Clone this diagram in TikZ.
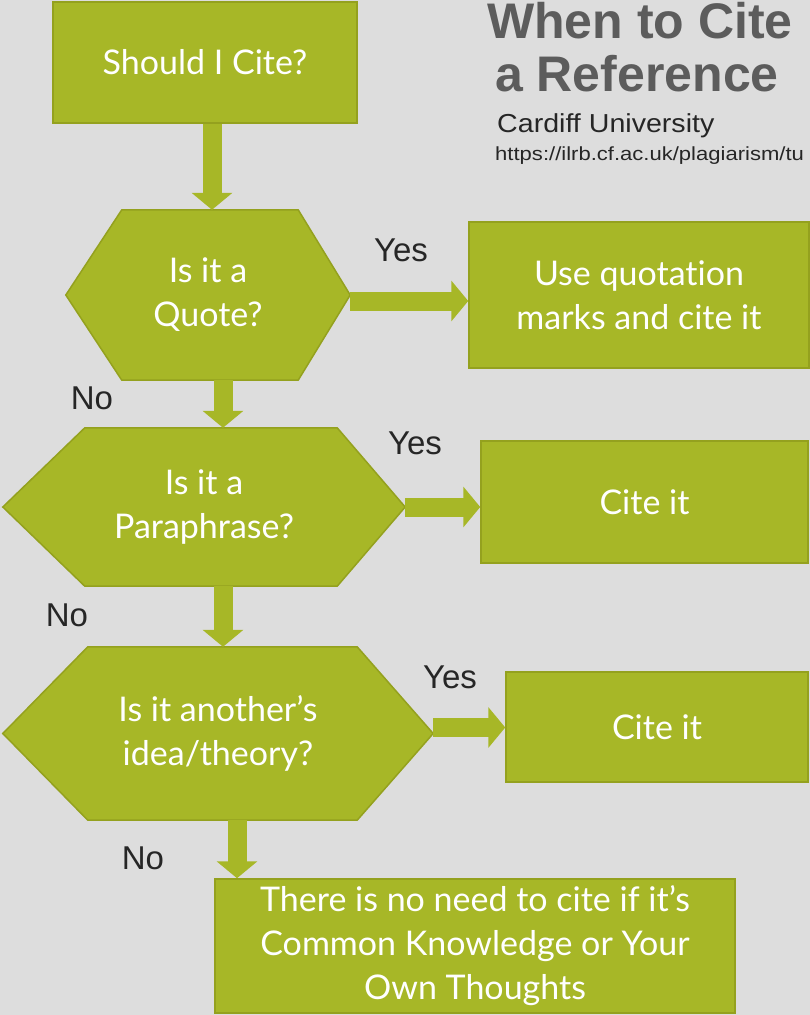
\documentclass[tikz,border=0pt]{standalone}
\usepackage{fontspec}
\setmainfont{Lato}[Ligatures=NoCommon]
\newfontfamily\arialfont{Liberation Sans}
\usetikzlibrary{arrows.meta,positioning,backgrounds}
\definecolor{citegreen}{RGB}{167,183,39}
\definecolor{citeedge}{RGB}{148,161,30}
\definecolor{paper}{RGB}{221,221,221}
\definecolor{titlegray}{RGB}{92,92,92}
% hexagon round a named node: node, left inset, right inset
\newcommand{\hexoutline}[3]{%
  \filldraw[fill=citegreen,draw=citeedge,line width=1.5pt,line join=miter]
    (#1.west) -- ([xshift=#2pt]#1.north west) -- ([xshift=-#3pt]#1.north east)
    -- (#1.east) -- ([xshift=-#3pt]#1.south east) -- ([xshift=#2pt]#1.south west) -- cycle;}

\begin{document}
\begin{tikzpicture}[
      x=1pt,y=-1pt,
      box/.style={rectangle,draw=citeedge,fill=citegreen,line width=1.5pt,text=white,
                  align=center,inner sep=0pt,font=\fontsize{34}{44}\selectfont},
      hexnode/.style={rectangle,text=white,align=center,inner sep=0pt,
                      font=\fontsize{34}{44}\selectfont},
      flow/.style={draw=citegreen,line width=19pt,-{Triangle[width=40pt,length=17pt]}},
      answer/.style={font=\arialfont\fontsize{33}{33}\selectfont,text=black!85,inner sep=0pt}
    ]
    \useasboundingbox (0,0) rectangle (810,1015);
    \clip (0,0) rectangle (810,1015);

    % Title
    \node[anchor=base west,inner sep=0pt,text=titlegray,
          font=\arialfont\bfseries\fontsize{50}{50}\selectfont] (title1) at (487,38) {When to Cite};
    \node[anchor=base west,inner sep=0pt,text=titlegray,
          font=\arialfont\bfseries\fontsize{50}{50}\selectfont] (title2) at (495,91) {a Reference};
    \node[anchor=base west,inner sep=0pt,text=black!85,xscale=1.1,
          font=\arialfont\fontsize{26}{26}\selectfont] (uni) at (497,132) {Cardiff University};
    \node[anchor=base west,inner sep=0pt,text=black!85,xscale=1.16,
          font=\arialfont\fontsize{19}{19}\selectfont] (url) at (495,160) {https://ilrb.cf.ac.uk/plagiarism/tu};

    % Questions and answers
    \node[box,minimum width=304pt,minimum height=121pt] (should) at (205,62.5) {Should I Cite?};
    \node[hexnode,minimum width=284pt,minimum height=170pt] (quote) at (208,295) {Is it a\\Quote?};
    \node[box,minimum width=340pt,minimum height=146pt] (quotecite) at (639,295) {Use quotation\\marks and cite it};
    \node[hexnode,minimum width=402pt,minimum height=158pt] (para) at (204,507) {Is it a\\Paraphrase?};
    \node[box,minimum width=327pt,minimum height=122pt] (paracite) at (644.5,502) {Cite it};
    \node[hexnode,minimum width=430pt,minimum height=173pt] (idea) at (218,733.5) {Is it another’s\\idea/theory?};
    \node[box,minimum width=302pt,minimum height=110pt] (ideacite) at (657,727) {Cite it};
    \node[box,minimum width=520pt,minimum height=134pt] (common) at (475,946)
      {There is no need to cite if it’s\\Common Knowledge or Your\\Own Thoughts};

    % Hexagon shapes behind the question texts
    \begin{scope}[on background layer]
      \fill[paper] (0,0) rectangle (810,1015);
      \hexoutline{quote}{56}{52}
      \hexoutline{para}{82}{68}
      \hexoutline{idea}{85}{76}
    \end{scope}

    % Arrows down
    \draw[flow] ([xshift=7pt]should.south) -- ([xshift=7pt]should.south |- quote.north);
    \draw[flow] ([xshift=15pt]quote.south) -- ([xshift=15pt]quote.south |- para.north);
    \draw[flow] ([xshift=19pt]para.south) -- ([xshift=19pt]para.south |- idea.north);
    \draw[flow] ([xshift=19pt]idea.south) -- ([xshift=19pt]idea.south |- common.north);

    % Arrows across
    \draw[flow] ([yshift=-6pt]quote.east) -- ([yshift=-6pt]quote.east -| quotecite.west);
    \draw[flow] (para.east) -- (para.east -| paracite.west);
    \draw[flow] ([yshift=6pt]idea.east) -- ([yshift=6pt]idea.east -| ideacite.west);

    % Labels on arrows
    \node[answer] (yes1) at (401,250) {Yes};
    \node[answer] (no1) at (92,398) {No};
    \node[answer] (yes2) at (415,443) {Yes};
    \node[answer] (no2) at (67,615) {No};
    \node[answer] (yes3) at (450,677) {Yes};
    \node[answer] (no3) at (143,858) {No};

  \end{tikzpicture}
\end{document}
